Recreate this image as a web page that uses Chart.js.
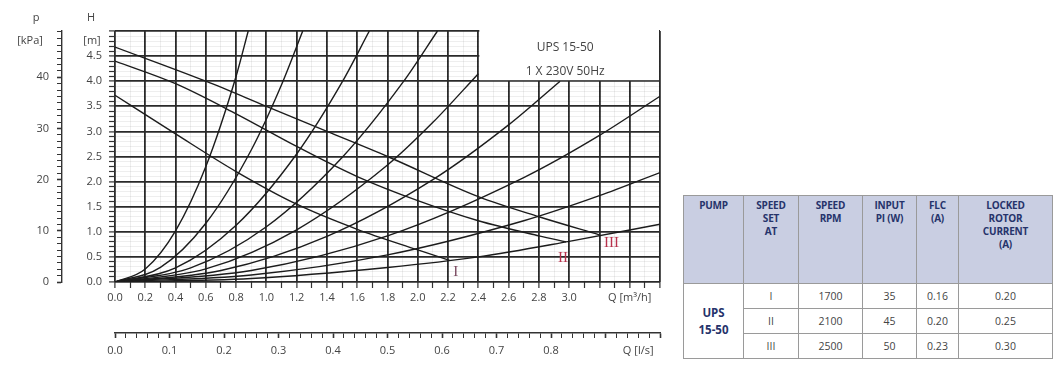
<!DOCTYPE html>
<html>
<head>
<meta charset="utf-8">
<script src="https://cdn.jsdelivr.net/npm/chart.js@4/dist/chart.umd.min.js"></script>
<style>
    body { margin: 0; background: #fff; width: 1055px; height: 366px; overflow: hidden; position: relative; font-family: 'Open Sans', sans-serif; }
    #pump-chart { position: absolute; left: 0; top: 0; }
    #pump-table { position: absolute; left: 683px; top: 195px; border-collapse: collapse; table-layout: fixed; width: 369px; }
    #pump-table th, #pump-table td { border: 1px solid #9a9a9a; text-align: center; padding: 0; }
    #pump-table th { background: #c9cee2; color: #26336b; font-size: 10px; font-weight: 700; vertical-align: top; padding-top: 3px; height: 84px; line-height: 13px; letter-spacing: -0.2px; }
    #pump-table td { color: #444; font-size: 10.5px; height: 24px; }
    #pump-table td.pump { color: #26336b; font-weight: 700; font-size: 11.5px; line-height: 17px; }
</style>
</head>
<body>
<canvas id="pump-chart" width="680" height="366"></canvas>

<table id="pump-table">
    <colgroup>
        <col style="width:60px"><col style="width:55px"><col style="width:64px"><col style="width:54px"><col style="width:42px"><col style="width:94px">
    </colgroup>
    <thead>
        <tr id="table-head"></tr>
    </thead>
    <tbody id="table-body"></tbody>
</table>

<script>
// Pump curves (Q in m3/h, H in m)
const speedIQ = [0, 0.4, 0.8, 1.2, 1.6, 2.0, 2.21];
const speedIH = [3.72, 2.95, 2.2, 1.55, 1.05, 0.64, 0.43];
const speedIIQ = [0, 0.4, 0.8, 1.2, 1.6, 2.0, 2.4, 2.8, 2.98];
const speedIIH = [4.4, 3.95, 3.35, 2.7, 2.1, 1.62, 1.22, 0.92, 0.8];
const speedIIIQ = [0, 0.6, 1.0, 1.4, 1.8, 2.4, 2.8, 3.2];
const speedIIIH = [4.68, 4.0, 3.5, 3.0, 2.5, 1.7, 1.3, 0.94];

// System curves from the origin
const sys1Q = [0, 0.2, 0.4, 0.6, 0.8, 0.88];
const sys1H = [0, 0.26, 1.02, 2.3, 4.1, 5.0];
const sys2Q = [0, 0.3, 0.6, 0.9, 1.1, 1.24];
const sys2H = [0, 0.29, 1.17, 2.63, 3.93, 5.0];
const sys3Q = [0, 0.4, 0.8, 1.2, 1.5, 1.68];
const sys3H = [0, 0.28, 1.13, 2.55, 3.98, 5.0];
const sys4Q = [0, 0.5, 1.0, 1.5, 1.9, 2.13];
const sys4H = [0, 0.28, 1.1, 2.48, 3.97, 5.0];
const sys5Q = [0, 0.6, 1.2, 1.8, 2.1, 2.4];
const sys5H = [0, 0.26, 1.04, 2.33, 3.18, 4.15];
const sys6Q = [0, 0.7, 1.4, 2.1, 2.6, 2.94];
const sys6H = [0, 0.23, 0.91, 2.04, 3.13, 4.0];
const sys7Q = [0, 0.9, 1.8, 2.7, 3.2, 3.6];
const sys7H = [0, 0.23, 0.92, 2.08, 2.92, 3.7];
const sys8Q = [0, 0.9, 1.8, 2.7, 3.2, 3.6];
const sys8H = [0, 0.14, 0.54, 1.22, 1.72, 2.18];
const sys9Q = [0, 0.9, 1.8, 2.4, 3.0, 3.6];
const sys9H = [0, 0.07, 0.29, 0.5, 0.81, 1.15];

// speed set labels, placed at (Q, H)
const speedLabels = ['I', 'II', 'III'];
const speedLabelQ = [2.25, 2.96, 3.28];
const speedLabelH = [0.2, 0.47, 0.78];

// table
const tableHeadings = ['PUMP', 'SPEED|SET|AT', 'SPEED|RPM', 'INPUT|PI (W)', 'FLC|(A)', 'LOCKED|ROTOR|CURRENT|(A)'];
const tablePump = 'UPS 15-50';
const tableSpeed = ['I', 'II', 'III'];
const tableRpm = ['1700', '2100', '2500'];
const tableInput = ['35', '45', '50'];
const tableFlc = ['0.16', '0.20', '0.23'];
const tableLocked = ['0.20', '0.25', '0.30'];

const kpaPerMetre = 9.81;
const inkColor = '#1c1c1c';
const textColor = '#444';

function toPoints(qs, hs) {
    return qs.map((q, i) => ({ x: q, y: hs[i] }));
}

const curveSets = [
    [speedIQ, speedIH], [speedIIQ, speedIIH], [speedIIIQ, speedIIIH],
    [sys1Q, sys1H], [sys2Q, sys2H], [sys3Q, sys3H], [sys4Q, sys4H], [sys5Q, sys5H],
    [sys6Q, sys6H], [sys7Q, sys7H], [sys8Q, sys8H], [sys9Q, sys9H]
];

const datasets = curveSets.map(([qs, hs]) => ({
    data: toPoints(qs, hs),
    borderColor: inkColor,
    borderWidth: 1.4,
    pointRadius: 0,
    cubicInterpolationMode: 'monotone',
    fill: false
}));

// white box in the top right corner with the pump name, plus speed labels and axis titles
const decorPlugin = {
    id: 'decor',
    afterDatasetsDraw(chart) {
        const ctx = chart.ctx;
        const x = chart.scales.x;
        const y = chart.scales.y;
        const left = x.getPixelForValue(2.4) + 1;
        const right = x.getPixelForValue(3.6) - 1;
        const bottom = y.getPixelForValue(4.0) - 1;
        ctx.save();
        ctx.fillStyle = '#fff';
        ctx.fillRect(left, 0, right - left, bottom);

        ctx.fillStyle = textColor;
        ctx.font = "12px 'Open Sans', sans-serif";
        ctx.textAlign = 'center';
        ctx.textBaseline = 'middle';
        const cx = x.getPixelForValue(3.0) - 4;
        ctx.fillText('UPS 15-50', cx, 48);
        ctx.fillText('1 X 230V 50Hz', cx, 72);

        ctx.font = "15px 'Liberation Serif', serif";
        speedLabels.forEach((lab, i) => {
            ctx.fillStyle = i === 0 ? '#7a4a60' : '#b8324c';
            ctx.fillText(lab, x.getPixelForValue(speedLabelQ[i]), y.getPixelForValue(speedLabelH[i]));
        });
        ctx.restore();
    },
    afterDraw(chart) {
        const ctx = chart.ctx;
        ctx.save();
        ctx.fillStyle = textColor;
        ctx.font = "11px 'Open Sans', sans-serif";
        ctx.textAlign = 'center';
        ctx.textBaseline = 'middle';
        ctx.fillText('p', 36, 18);
        ctx.fillText('[kPa]', 30, 41);
        ctx.fillText('H', 91, 18);
        ctx.fillText('[m]', 92, 41);
        ctx.restore();
    }
};

function isMult(v, step) {
    const n = v / step;
    return Math.abs(n - Math.round(n)) < 1e-6;
}

Chart.defaults.font.family = "'Open Sans', sans-serif";
Chart.defaults.font.size = 11;
Chart.defaults.color = textColor;

new Chart(document.getElementById('pump-chart'), {
    type: 'line',
    data: { datasets: datasets },
    plugins: [decorPlugin],
    options: {
        responsive: false,
        animation: false,
        layout: { padding: { top: 31, right: 20, left: 0, bottom: 0 } },
        plugins: { legend: { display: false }, tooltip: { enabled: false } },
        scales: {
            x: {
                type: 'linear',
                position: 'bottom',
                min: 0,
                max: 3.6,
                afterFit(scale) { scale.height = 51; },
                border: { display: false },
                grid: {
                    color: c => isMult(c.tick.value, 0.2) ? '#2a2a2a' : 'rgba(0,0,0,0.065)',
                    lineWidth: c => isMult(c.tick.value, 0.2) ? 1.8 : 1,
                    tickColor: '#333',
                    tickWidth: 1.2,
                    tickLength: 6
                },
                ticks: {
                    stepSize: 0.1,
                    autoSkip: false,
                    maxRotation: 0,
                    maxTicksLimit: 200,
                    padding: 3,
                    callback: v => {
                        const n = Math.round(v * 10);
                        if (n === 34) return 'Q [m\u00b3/h]';
                        if (n % 2 === 0 && n <= 30) return (n / 10).toFixed(1);
                        return '';
                    }
                }
            },
            xl: {
                type: 'linear',
                position: 'bottom',
                min: 0,
                max: 1,
                afterFit(scale) { scale.height = 33; },
                border: { display: true, color: '#333', width: 1.4 },
                grid: {
                    drawOnChartArea: false,
                    tickColor: '#333',
                    tickWidth: c => isMult(c.tick.value, 0.1) ? 1.6 : 1,
                    tickLength: 5
                },
                ticks: {
                    stepSize: 0.02,
                    autoSkip: false,
                    maxRotation: 0,
                    maxTicksLimit: 200,
                    padding: 6,
                    callback: v => {
                        const n = Math.round(v * 100);
                        if (n === 96) return 'Q [l/s]';
                        if (n % 10 === 0 && n <= 80) return (n / 100).toFixed(1);
                        return '';
                    }
                }
            },
            y: {
                type: 'linear',
                position: 'left',
                weight: 0,
                min: 0,
                max: 5,
                afterFit(scale) { scale.width = 53; },
                border: { display: false },
                grid: {
                    color: c => isMult(c.tick.value, 0.5) ? '#2a2a2a' : 'rgba(0,0,0,0.065)',
                    lineWidth: c => isMult(c.tick.value, 0.5) ? 1.8 : 1,
                    tickColor: '#333',
                    tickWidth: 1.2,
                    tickLength: 6
                },
                ticks: {
                    stepSize: 0.1,
                    autoSkip: false,
                    maxTicksLimit: 200,
                    padding: 7,
                    callback: v => isMult(v, 0.5) && v < 4.9 ? v.toFixed(1) : ''
                }
            },
            p: {
                type: 'linear',
                position: 'left',
                weight: 1,
                min: 0,
                max: 5 * kpaPerMetre,
                afterFit(scale) { scale.width = 62; },
                border: { display: true, color: '#333', width: 1.4 },
                grid: {
                    drawOnChartArea: false,
                    tickColor: '#333',
                    tickWidth: c => isMult(c.tick.value, 10) ? 1.6 : 1,
                    tickLength: 5
                },
                ticks: {
                    stepSize: 1.25,
                    autoSkip: false,
                    maxTicksLimit: 200,
                    padding: 8,
                    callback: v => isMult(v, 10) ? String(Math.round(v)) : ''
                }
            }
        }
    }
});

// Build the table
const headRow = document.getElementById('table-head');
tableHeadings.forEach(h => {
    const th = document.createElement('th');
    h.split('|').forEach((word, i) => {
        if (i > 0) th.appendChild(document.createElement('br'));
        th.appendChild(document.createTextNode(word));
    });
    headRow.appendChild(th);
});
const body = document.getElementById('table-body');
tableSpeed.forEach((s, i) => {
    const tr = document.createElement('tr');
    if (i === 0) {
        const td = document.createElement('td');
        td.className = 'pump';
        td.rowSpan = tableSpeed.length;
        td.innerHTML = tablePump.replace(' ', '<br>');
        tr.appendChild(td);
    }
    [s, tableRpm[i], tableInput[i], tableFlc[i], tableLocked[i]].forEach(v => {
        const td = document.createElement('td');
        td.textContent = v;
        tr.appendChild(td);
    });
    body.appendChild(tr);
});
</script>
</body>
</html>
